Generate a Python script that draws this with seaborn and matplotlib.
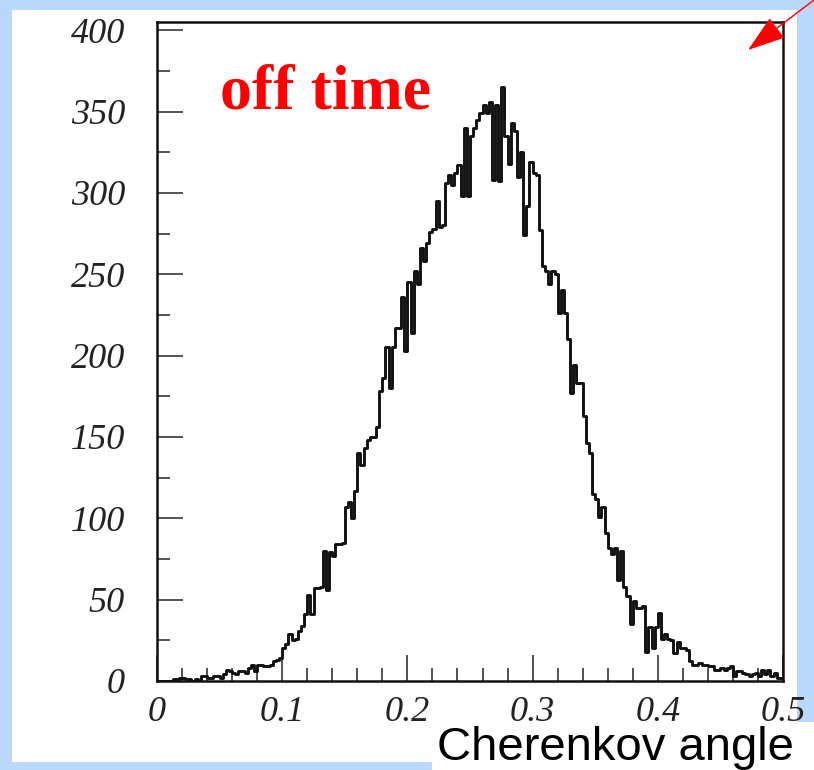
import numpy as np
import matplotlib
matplotlib.use("Agg")
import matplotlib.pyplot as plt
from matplotlib.patches import Rectangle
from matplotlib.ticker import MultipleLocator
import seaborn as sns

# histogram of Cherenkov angle, 200 bins of 0.0025 from 0 to 0.5
BIN_WIDTH = 0.0025
COUNTS = [
    0, 0, 0, 0, 0, 1, 1, 2, 2, 1,
    1, 0, 1, 0, 3, 3, 2, 2, 3, 3,
    2, 4, 7, 6, 5, 4, 6, 6, 5, 8,
    10, 6, 10, 10, 9, 9, 10, 12, 13, 14,
    20, 23, 29, 25, 26, 31, 34, 41, 53, 41,
    57, 57, 58, 80, 56, 79, 77, 84, 84, 85,
    107, 110, 100, 117, 140, 133, 143, 148, 150, 150,
    156, 178, 186, 205, 180, 205, 217, 217, 236, 203,
    245, 214, 252, 244, 266, 258, 269, 276, 278, 295,
    279, 280, 306, 311, 305, 312, 317, 298, 340, 298,
    335, 340, 345, 349, 354, 349, 356, 308, 354, 307,
    365, 335, 318, 343, 338, 310, 325, 274, 292, 319,
    312, 311, 277, 255, 252, 244, 252, 250, 226, 240,
    226, 210, 177, 194, 183, 183, 163, 146, 140, 115,
    112, 101, 107, 91, 82, 78, 82, 62, 80, 58,
    52, 35, 49, 45, 45, 46, 18, 33, 20, 33,
    42, 26, 29, 26, 25, 17, 24, 20, 20, 19,
    12, 10, 10, 11, 10, 10, 9, 9, 7, 7,
    8, 7, 8, 9, 3, 6, 6, 5, 4, 3,
    4, 5, 3, 7, 4, 7, 3, 5, 2, 2,
]
X_TICKS = [0, 0.1, 0.2, 0.3, 0.4, 0.5]
X_LABELS = ["0", "0.1", "0.2", "0.3", "0.4", "0.5"]
Y_TICKS = [0, 50, 100, 150, 200, 250, 300, 350, 400]
Y_LABELS = ["0", "50", "100", "150", "200", "250", "300", "350", "400"]

sns.set_style("ticks")
plt.rcParams["font.family"] = ["Liberation Serif", "DejaVu Serif"]

centers = np.arange(len(COUNTS)) * BIN_WIDTH + BIN_WIDTH / 2

fig = plt.figure(figsize=(8.14, 7.70), dpi=100)
fig.patch.set_facecolor("#bad8f9")

# white slide panel
fig.add_artist(Rectangle((0.0147, 0.0104), 0.9643, 0.9766, transform=fig.transFigure,
                         facecolor="white", edgecolor="none", zorder=-1))

ax = fig.add_axes([0.1929, 0.1156, 0.7690, 0.8558])
ax.set_facecolor("white")
sns.histplot(x=centers, weights=COUNTS, binwidth=BIN_WIDTH, binrange=(0, 0.5),
             element="step", fill=False, color="#111111", linewidth=2.1, ax=ax)

ax.set_xlim(0, 0.5)
ax.set_ylim(0, 405)
ax.set_xlabel("")
ax.set_ylabel("")
ax.set_xticks(X_TICKS)
ax.set_xticklabels(X_LABELS)
ax.set_yticks(Y_TICKS)
ax.set_yticklabels(Y_LABELS)
ax.xaxis.set_minor_locator(MultipleLocator(0.02))
ax.yaxis.set_minor_locator(MultipleLocator(25))
ax.tick_params(which="major", direction="in", length=19, width=1.3, color="#444444",
               labelsize=26, labelcolor="#222222")
ax.tick_params(which="minor", direction="in", length=9.5, width=1.3, color="#444444")
ax.tick_params(axis="x", pad=11)
ax.tick_params(axis="y", pad=23)
for lab in ax.get_xticklabels() + ax.get_yticklabels():
    lab.set_fontstyle("italic")
for sp in ax.spines.values():
    sp.set_visible(True)
    sp.set_linewidth(1.8)
    sp.set_color("#111111")

ax.text(0.1006, 0.8695, "off time", transform=ax.transAxes, color="red",
        fontsize=46, fontweight="bold", family="Liberation Serif", va="baseline")

# red arrow from the top-right corner
ax.annotate("", xy=(748 / 814, 1 - 50 / 770), xycoords="figure fraction",
            xytext=(1.0, 1.0), textcoords="figure fraction", annotation_clip=False,
            arrowprops=dict(arrowstyle="-|>,head_length=1.2,head_width=0.4",
                            color="red", lw=1.0, mutation_scale=20,
                            shrinkA=0, shrinkB=0))

# axis title box
fig.add_artist(Rectangle((432 / 814, 0), 382 / 814, 48 / 770, transform=fig.transFigure,
                         facecolor="white", edgecolor="none", zorder=3))
fig.text(437 / 814, 1 - 760 / 770, "Cherenkov angle", family="Liberation Sans",
         fontsize=34, color="black", va="baseline", ha="left", zorder=4)

fig.savefig("out.png", dpi=100, facecolor=fig.get_facecolor())
